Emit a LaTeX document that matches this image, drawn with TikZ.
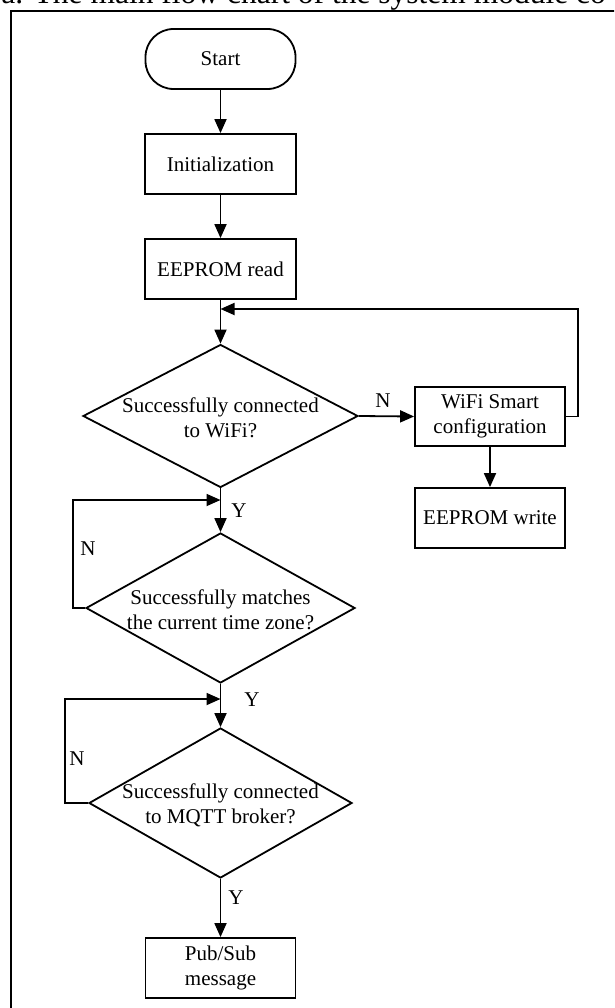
\documentclass[tikz,border=0pt]{standalone}
\usepackage{fontspec}
\setmainfont{Liberation Serif}
\usetikzlibrary{arrows.meta,shapes.geometric}
\begin{document}
\begin{tikzpicture}[x=1pt,y=-1pt,
  line width=1.8pt,
  every node/.style={font=\fontsize{21}{25}\selectfont, inner sep=0pt},
  procbox/.style={draw, line width=1.8pt, minimum width=151pt, minimum height=60pt, align=center},
  termbox/.style={procbox, rounded corners=28pt},
  decision/.style={draw, shape=diamond, line width=1.8pt, inner sep=0pt},
  dtext/.style={align=center},
  arr/.style={-{Triangle[length=14pt,width=12pt]}},
  yn/.style={font=\fontsize{21}{25}\selectfont}
]
\useasboundingbox (0,0) rectangle (614,1008);
\clip (0,0) rectangle (614,1008);

% caption, cut by the top of the page
\node[anchor=base west, font=\fontsize{31.5}{31.5}\selectfont] (cap) at (0.5,4) {a. The main flow chart of the system module co};

% frame
\draw (11,1030) -- (11,11) -- (640,11);

% main column
\node[termbox, minimum width=150pt] (start) at (220.5,59) {Start};
\node[procbox] (init) at (220.5,164) {Initialization};
\node[procbox] (eread) at (220.5,269) {EEPROM read};

\node[decision, minimum width=275pt, minimum height=143pt] (d1) at (220.5,416) {};
\node[dtext] (d1t) at (220.5,418) {Successfully connected\\to WiFi?};

\node[procbox, minimum width=150pt, minimum height=59pt] (wifi) at (490,416.5) {WiFi Smart\\configuration};
\node[procbox, minimum width=150pt] (ewrite) at (490,518) {EEPROM write};

\node[decision, minimum width=269pt, minimum height=150pt] (d2) at (220.5,608) {};
\node[dtext] (d2t) at (220.5,610) {Successfully matches\\the current time zone?};

\node[decision, minimum width=263pt, minimum height=150pt] (d3) at (220.5,803) {};
\node[dtext] (d3t) at (220.5,805) {Successfully connected\\to MQTT broker?};

\node[procbox, minimum width=150pt] (pub) at (220.5,968) {Pub/Sub\\message};

% junction points where loops rejoin the main line
\coordinate (j1) at (220.5,309);
\coordinate (j2) at (220.5,500);
\coordinate (j3) at (220.5,699);

% connectors
\draw[arr] (start) -- (init);
\draw[arr] (init) -- (eread);
\draw[arr] (eread) -- (d1);
\draw[arr] (d1.east) -- (wifi.west);
\draw[arr] (wifi.east) -- ++(12,0) |- (j1);
\draw[arr] (wifi) -- (ewrite);
\draw[arr] (d1.south) -- (d2.north);
\draw[arr] (d2.west) -- ++(-12,0) |- (j2);
\draw[arr] (d2.south) -- (d3.north);
\draw[arr] (d3.west) -- ++(-23,0) |- (j3);
\draw[arr] (d3.south) -- (pub.north);

% branch labels
\node[yn] (n1) at (383,401) {N};
\node[yn] (y1) at (239,511) {Y};
\node[yn] (n2) at (88,549) {N};
\node[yn] (y2) at (252,700) {Y};
\node[yn] (n3) at (77,759) {N};
\node[yn] (y3) at (236,898) {Y};
\end{tikzpicture}
\end{document}
